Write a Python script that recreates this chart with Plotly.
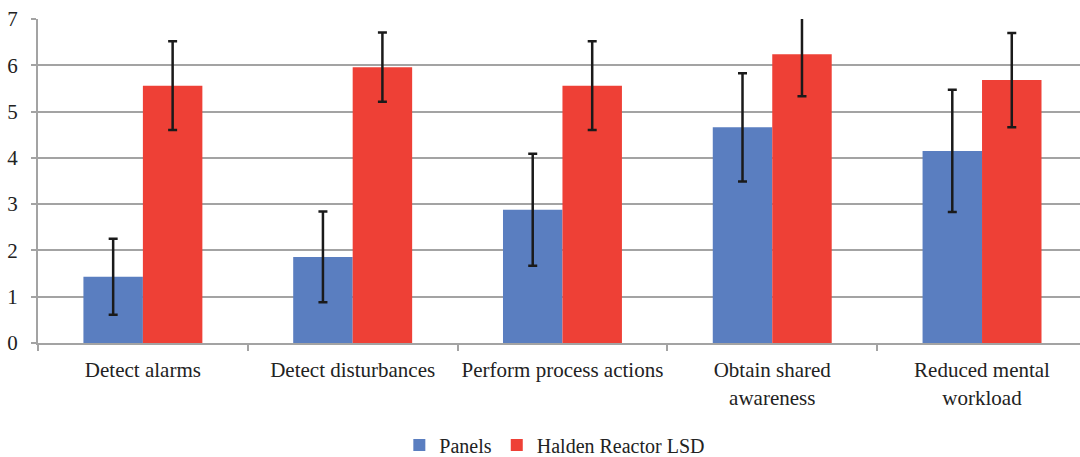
import plotly.graph_objects as go

categories = ["Detect alarms", "Detect disturbances", "Perform process actions",
              "Obtain shared<br>awareness", "Reduced mental<br>workload"]
panels = [1.43, 1.86, 2.88, 4.66, 4.15]
panels_err = [0.82, 0.98, 1.21, 1.17, 1.32]
lsd = [5.56, 5.96, 5.56, 6.24, 5.68]
lsd_err = [0.96, 0.75, 0.96, 0.91, 1.02]
y_ticks = [0, 1, 2, 3, 4, 5, 6, 7]

blue = "#5A7EC0"
red = "#EE4036"
grid = "#A3A3A3"
font = "'Liberation Serif', 'Times New Roman', serif"

fig = go.Figure()
fig.add_trace(go.Bar(
    name="Panels", x=categories, y=panels, marker_color=blue, marker_line_width=0,
    error_y=dict(type="data", array=panels_err, color="#1A1A1A", thickness=2.5, width=4.5),
))
fig.add_trace(go.Bar(
    name="Halden Reactor LSD", x=categories, y=lsd, marker_color=red, marker_line_width=0,
    error_y=dict(type="data", array=lsd_err, color="#1A1A1A", thickness=2.5, width=4.5),
))

fig.update_layout(
    width=1080, height=457,
    margin=dict(l=37.5, r=0, t=19, b=113.5, autoexpand=False),
    paper_bgcolor="white", plot_bgcolor="white",
    barmode="group", bargap=0.433, bargroupgap=0,
    font=dict(family=font, size=20, color="#222222"),
    showlegend=True,
    legend=dict(orientation="h", x=0.496, xanchor="center", y=-0.315, yanchor="middle",
                font=dict(family=font, size=20, color="#222222"),
                itemwidth=30, traceorder="normal"),
)
fig.update_xaxes(
    range=[-0.5, 4.467], type="category", automargin=False, tickangle=0,
    showline=True, linecolor=grid, linewidth=2,
    ticks="outside", tickson="boundaries", ticklen=6, tickcolor=grid, tickwidth=1.5,
    ticklabelstandoff=7,
    showgrid=False, tickfont=dict(family=font, size=21, color="#222222"),
)
fig.update_yaxes(
    range=[0, 7], tickvals=y_ticks, showgrid=True, gridcolor=grid, gridwidth=2,
    showline=True, linecolor=grid, linewidth=2, automargin=False,
    ticks="outside", ticklen=5, tickcolor=grid, tickwidth=1.5,
    ticklabelstandoff=9,
    zeroline=False, tickfont=dict(family=font, size=21, color="#222222"),
)

fig.write_html("out.html", config={"displayModeBar": False},
               post_script="document.body.style.margin='0px';")
